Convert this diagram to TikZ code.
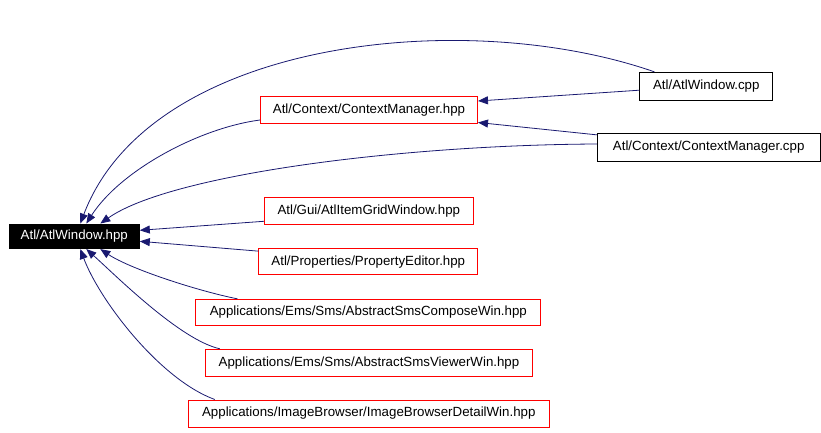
\documentclass[tikz,border=0pt]{standalone}
\usepackage{fontspec}
\setmainfont{Liberation Sans}
\usetikzlibrary{arrows.meta}
\definecolor{edgeblue}{HTML}{191970}
\definecolor{boxred}{HTML}{FF0000}
\tikzset{
  file/.style={draw=boxred, line width=1pt, align=center, inner sep=0pt, minimum height=27pt, font=\fontsize{13.3}{15}\selectfont},
  source/.style={file, draw=black},
  current/.style={file, draw=black, fill=black, text=white, minimum height=24.5pt},
  arrow/.style={-{Triangle[length=10pt,width=8pt]}, line width=0.8pt, color=edgeblue}
}

\begin{document}
\begin{tikzpicture}[x=1pt,y=-1pt]
  \useasboundingbox (0,0) rectangle (821,433);

  \node[current, minimum width=130pt] (hpp) at (74.3,236.3) {Atl/AtlWindow.hpp};
  \node[file, minimum width=217pt] (ctxhpp) at (369,110) {Atl/Context/ContextManager.hpp};
  \node[source, minimum width=132.7pt, minimum height=27.7pt] (wincpp) at (706.3,86.2) {Atl/AtlWindow.cpp};
  \node[source, minimum width=222.7pt, minimum height=28.3pt] (ctxcpp) at (708.7,147.5) {Atl/Context/ContextManager.cpp};
  \node[file, minimum width=209pt] (grid) at (368.8,210.8) {Atl/Gui/AtlItemGridWindow.hpp};
  \node[file, minimum width=218.7pt, minimum height=26.3pt] (prop) at (368.3,261.8) {Atl/Properties/PropertyEditor.hpp};
  \node[file, minimum width=344.7pt, minimum height=25.7pt] (compose) at (368.3,312.2) {Applications/Ems/Sms/AbstractSmsComposeWin.hpp};
  \node[file, minimum width=327.3pt] (viewer) at (369,362.8) {Applications/Ems/Sms/AbstractSmsViewerWin.hpp};
  \node[file, minimum width=361pt] (browser) at (368.8,413.5) {Applications/ImageBrowser/ImageBrowserDetailWin.hpp};

  % includes of the header
  \draw[arrow] ([xshift=15pt]wincpp.north west) .. controls +(-190,-66) and +(70,-184) .. ([xshift=6pt]hpp.north);
  \draw[arrow] ([yshift=-4pt]wincpp.west) -- ([yshift=9pt]ctxhpp.east);
  \draw[arrow] ([yshift=-2pt]ctxcpp.north west) -- ([yshift=1.5pt]ctxhpp.south east);
  \draw[arrow] ([yshift=3.5pt]ctxcpp.west) .. controls +(-197,1) and +(70,-49) .. ([xshift=26pt]hpp.north);
  \draw[arrow] ([yshift=-10pt]ctxhpp.west) .. controls +(-61,8) and +(34,-53) .. ([xshift=12pt]hpp.north);
  \draw[arrow] ([yshift=3.5pt]grid.south west) -- ([yshift=6pt]hpp.east);
  \draw[arrow] ([yshift=-3pt]prop.north west) -- ([yshift=-5pt]hpp.east);
  \draw[arrow] ([xshift=42pt]compose.north west) .. controls +(-40,-8) and +(30,20) .. ([xshift=26pt]hpp.south);
  \draw[arrow] ([xshift=15pt]viewer.north west) .. controls +(-40,-9) and +(29,26) .. ([xshift=12pt]hpp.south);
  \draw[arrow] ([xshift=27pt]browser.north west) .. controls +(-55,-20) and +(19,51) .. ([xshift=6pt]hpp.south);
\end{tikzpicture}
\end{document}
